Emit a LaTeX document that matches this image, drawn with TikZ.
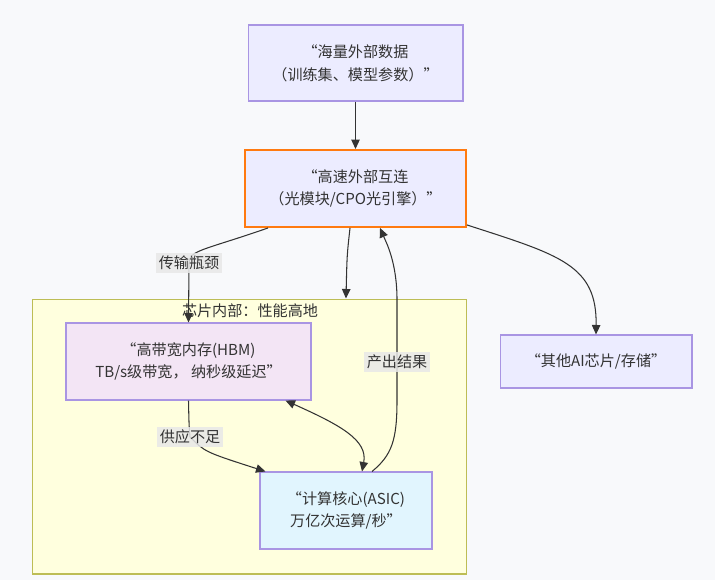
\documentclass[tikz,border=0pt]{standalone}
\usepackage{fontspec}
\setmainfont{Noto Sans CJK SC}
\usepackage{xcolor}
\usepackage{tikz}
\usetikzlibrary{shapes,arrows,arrows.meta,positioning,calc}

\definecolor{bgcol}{HTML}{F8F9FB}
\definecolor{mmfill}{HTML}{ECECFF}
\definecolor{mmstroke}{HTML}{A995E3}
\definecolor{hotline}{HTML}{FF7A10}
\definecolor{chipfill}{HTML}{FFFFDE}
\definecolor{chipline}{HTML}{BDBD55}
\definecolor{hbmfill}{HTML}{F3E5F5}
\definecolor{asicfill}{HTML}{E1F5FE}
\definecolor{ink}{HTML}{333333}
\definecolor{lblfill}{HTML}{E8E8E8}

\begin{document}
\begin{tikzpicture}[
    x=0.02cm, y=-0.02cm,
    every node/.style={text=ink, font=\fontsize{8.6pt}{13pt}\selectfont},
    box/.style={rectangle, draw=mmstroke, fill=mmfill, line width=0.6pt, align=center, minimum height=1.54cm},
    arrow/.style={-{Triangle[length=1.9mm, width=1.7mm]}, draw=ink, line width=0.6pt},
    twoway/.style={{Triangle[length=1.9mm, width=1.7mm]}-{Triangle[length=1.9mm, width=1.7mm]}, draw=ink, line width=0.6pt},
    lbl/.style={fill=lblfill, fill opacity=0.85, text opacity=1, inner sep=1.5pt}
]

\useasboundingbox[fill=bgcol] (0,0) rectangle (715,580);

% Chip area
\node[rectangle, draw=chipline, fill=chipfill, line width=0.6pt, minimum width=8.7cm, minimum height=5.5cm] (chip) at (249.5,436.5) {};
\node (chiptitle) at (250,311) {芯片内部：性能高地};

% External data
\node[box, minimum width=4.3cm, minimum height=1.52cm] (data) at (355.5,63) {“海量外部数据\\（训练集、模型参数）”};

% Interconnect
\node[box, draw=hotline, line width=1.1pt, minimum width=4.42cm] (link) at (355.5,188.5) {“高速外部互连\\（光模块/CPO光引擎）”};

\draw[arrow] (data) -- (link);

% Memory and compute
\node[box, fill=hbmfill, minimum width=4.9cm] (hbm) at (188.5,361.5) {“高带宽内存(HBM)\\TB/s级带宽， 纳秒级延迟”};
\node[box, fill=asicfill, minimum width=3.44cm] (asic) at (346,510.5) {“计算核心(ASIC)\\万亿次运算/秒”};

% Other chips
\node[box, minimum width=3.84cm, minimum height=1.06cm] (other) at (596,361.5) {“其他AI芯片/存储”};

\draw[arrow] ([xshift=-1.75cm]link.south) .. controls (205,250) and (189,250) .. (189,263) node[lbl] {传输瓶颈} -- (hbm.north);
\draw[arrow] ([xshift=-0.11cm]link.south) .. controls (347,255) .. ([xshift=1.93cm]chip.north);
\draw[arrow] ([yshift=0.06cm]link.south east) .. controls (560,255) and (597,265) .. (other.north);

\draw[arrow] (hbm.south) .. controls (189,425) .. (190,437) node[lbl] {供应不足} .. controls (205,452) .. ([xshift=0.12cm]asic.north west);
\draw[twoway] ([xshift=-0.52cm]hbm.south east) .. controls (340,425) and (368,440) .. ([xshift=0.32cm]asic.north);
\draw[arrow] ([xshift=0.52cm]asic.north) .. controls (392,455) and (397,440) .. (397,400) -- (397,362) node[lbl] {产出结果} -- (397,300) .. controls (397,262) and (386,242) .. ([xshift=0.49cm]link.south);

\end{tikzpicture}
\end{document}
